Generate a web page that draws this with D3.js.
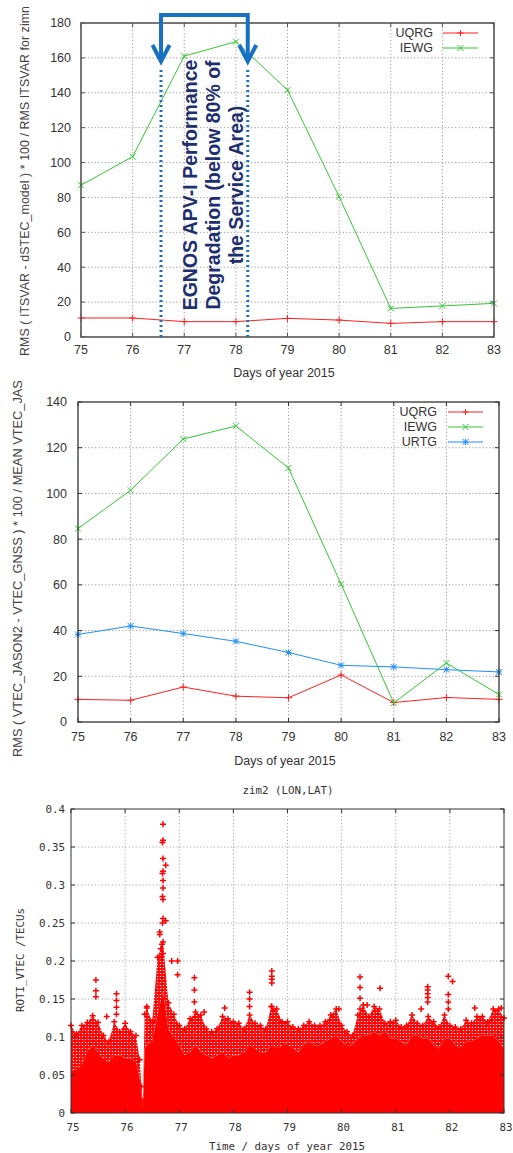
<!DOCTYPE html>
<html>
<head>
<meta charset="utf-8">
<script src="https://cdnjs.cloudflare.com/ajax/libs/d3/7.8.5/d3.min.js"></script>
<style>
  html, body { margin: 0; padding: 0; background: #fff; }
  svg { display: block; }
</style>
</head>
<body>
<svg id="chart" width="513" height="1153"></svg>
<script>
// ---- Data ------------------------------------------------------------
const days = [75, 76, 77, 78, 79, 80, 81, 82, 83];

// Panel 1: RMS(ITSVAR - dSTEC_model)*100 / RMS ITSVAR, station zimn
const itsvarUqrg = [10.9, 10.9, 8.8, 8.8, 10.7, 9.7, 7.8, 8.8, 8.8];
const itsvarIewg = [87.0, 103.4, 161.0, 169.3, 141.6, 80.4, 16.4, 17.8, 19.3];

// Panel 2: RMS(VTEC_JASON2 - VTEC_GNSS)*100 / MEAN VTEC_JASON2
const jasonUqrg = [9.9, 9.5, 15.3, 11.3, 10.6, 20.6, 8.5, 10.7, 9.9];
const jasonIewg = [84.6, 101.4, 123.8, 129.5, 111.1, 60.3, 8.3, 25.8, 12.0];
const jasonUrtg = [38.3, 42.0, 38.7, 35.3, 30.4, 24.8, 24.1, 22.9, 21.9];

// Tick values
const dayTicks = [75, 76, 77, 78, 79, 80, 81, 82, 83];
const itsvarTicks = [0, 20, 40, 60, 80, 100, 120, 140, 160, 180];
const jasonTicks = [0, 20, 40, 60, 80, 100, 120, 140];
const rotiTicks = [0, 0.05, 0.1, 0.15, 0.2, 0.25, 0.3, 0.35, 0.4];

// EGNOS APV-I degradation window (day of year)
const degradationDays = [76.55, 78.23];

// Panel 3: ROTI at zim2. Upper edge of the solid cloud and of the
// sparser fringe of samples, per time step.
const rotiDays = [75.0, 75.1, 75.2, 75.3, 75.4, 75.5, 75.6, 75.7, 75.8, 75.9,
  76.0, 76.1, 76.2, 76.27, 76.3, 76.33, 76.36, 76.4, 76.5, 76.6, 76.7, 76.8, 76.9,
  77.0, 77.1, 77.2, 77.3, 77.4, 77.5, 77.6, 77.7, 77.8, 77.9,
  78.0, 78.1, 78.2, 78.3, 78.4, 78.5, 78.6, 78.7, 78.8, 78.9,
  79.0, 79.1, 79.2, 79.3, 79.4, 79.5, 79.6, 79.7, 79.8, 79.9,
  80.0, 80.1, 80.2, 80.3, 80.4, 80.5, 80.6, 80.7, 80.8, 80.9,
  81.0, 81.1, 81.2, 81.3, 81.4, 81.5, 81.6, 81.7, 81.8, 81.9,
  82.0, 82.1, 82.2, 82.3, 82.4, 82.5, 82.6, 82.7, 82.8, 82.9, 83.0];
const rotiDense = [0.055, 0.058, 0.063, 0.080, 0.088, 0.080, 0.071, 0.067, 0.076, 0.076,
  0.072, 0.072, 0.067, 0.045, 0.025, 0.008, 0.085, 0.089, 0.094, 0.130, 0.160, 0.110, 0.100,
  0.089, 0.076, 0.080, 0.089, 0.080, 0.076, 0.072, 0.076, 0.080, 0.072,
  0.076, 0.076, 0.080, 0.089, 0.085, 0.080, 0.080, 0.089, 0.085, 0.089,
  0.090, 0.085, 0.080, 0.089, 0.094, 0.089, 0.089, 0.094, 0.098, 0.102,
  0.094, 0.089, 0.089, 0.098, 0.102, 0.102, 0.107, 0.102, 0.107, 0.098,
  0.098, 0.094, 0.089, 0.102, 0.102, 0.098, 0.098, 0.089, 0.085, 0.098,
  0.098, 0.089, 0.085, 0.094, 0.094, 0.098, 0.102, 0.102, 0.102, 0.094, 0.085];
const rotiFringe = [0.115, 0.104, 0.115, 0.119, 0.128, 0.119, 0.102, 0.094, 0.120, 0.107,
  0.118, 0.107, 0.102, 0.070, 0.035, 0.015, 0.130, 0.138, 0.120, 0.205, 0.225, 0.145, 0.130,
  0.115, 0.111, 0.124, 0.133, 0.129, 0.111, 0.107, 0.111, 0.127, 0.124,
  0.120, 0.118, 0.111, 0.129, 0.118, 0.115, 0.111, 0.140, 0.137, 0.120,
  0.120, 0.113, 0.111, 0.115, 0.120, 0.115, 0.115, 0.120, 0.129, 0.137,
  0.115, 0.107, 0.102, 0.129, 0.142, 0.127, 0.140, 0.137, 0.118, 0.120,
  0.122, 0.113, 0.115, 0.129, 0.118, 0.115, 0.127, 0.120, 0.113, 0.129,
  0.115, 0.113, 0.111, 0.122, 0.118, 0.127, 0.127, 0.120, 0.137, 0.137, 0.125];

// Isolated high ROTI samples above the cloud
const spikeDays = [75.46, 75.46, 75.46, 75.66, 75.84, 75.84, 75.84, 75.84, 76.40,
  76.70, 76.70, 76.69, 76.70, 76.75, 76.70, 76.69, 76.70, 76.70, 76.69, 76.70,
  76.70, 76.75, 76.69, 76.64, 76.64, 76.68, 76.66, 76.70, 76.67, 76.86, 76.97, 76.97,
  77.28, 77.28, 77.28, 77.46, 77.84, 78.30, 78.30, 78.30,
  78.71, 78.71, 78.71, 78.71, 78.71, 79.95, 80.34, 80.34, 80.34, 80.34, 80.47, 80.71,
  81.47, 81.59, 81.59, 81.59, 81.59, 81.59, 81.97, 81.97, 81.97, 81.97, 82.05, 82.46, 82.95];
const spikeValues = [0.175, 0.161, 0.153, 0.127, 0.157, 0.148, 0.139, 0.130, 0.140,
  0.380, 0.359, 0.356, 0.335, 0.326, 0.318, 0.315, 0.306, 0.296, 0.285, 0.281,
  0.256, 0.253, 0.250, 0.238, 0.235, 0.222, 0.216, 0.210, 0.205, 0.200, 0.200, 0.182,
  0.178, 0.162, 0.146, 0.133, 0.138, 0.159, 0.150, 0.140,
  0.187, 0.180, 0.176, 0.171, 0.140, 0.137, 0.179, 0.165, 0.151, 0.137, 0.142, 0.164,
  0.137, 0.166, 0.162, 0.157, 0.152, 0.146, 0.180, 0.156, 0.146, 0.137, 0.173, 0.138, 0.138];

// ---- Drawing helpers ---------------------------------------------------
const svg = d3.select('#chart');
const SANS = 'Liberation Sans, Arial, sans-serif';
const MONO = 'DejaVu Sans Mono, monospace';

function markerPath(kind, x, y, s) {
  const h = s / 2;
  const plus = `M${x - h},${y}H${x + h}M${x},${y - h}V${y + h}`;
  const cross = `M${x - h},${y - h}L${x + h},${y + h}M${x - h},${y + h}L${x + h},${y - h}`;
  if (kind === 'plus') return plus;
  if (kind === 'cross') return cross;
  return plus + cross;
}

function drawFrame(g, x, y, xTicks, yTicks, cfg) {
  const [x0, x1] = x.range();
  const [y0, y1] = y.range();
  g.append('g').selectAll('line').data(xTicks.slice(1, -1)).join('line')
    .attr('x1', d => x(d)).attr('x2', d => x(d)).attr('y1', y0).attr('y2', y1)
    .attr('stroke', cfg.grid).attr('stroke-width', 1).attr('stroke-dasharray', '1.2,2.2');
  g.append('g').selectAll('line').data(yTicks.slice(1, -1)).join('line')
    .attr('y1', d => y(d)).attr('y2', d => y(d)).attr('x1', x0).attr('x2', x1)
    .attr('stroke', cfg.grid).attr('stroke-width', 1).attr('stroke-dasharray', '1.2,2.2');
}

function drawBorder(g, x, y, xTicks, yTicks, cfg) {
  const [x0, x1] = x.range();
  const [y0, y1] = y.range();
  const t = cfg.tick;
  const tk = g.append('g').attr('stroke', cfg.frame).attr('stroke-width', 1);
  xTicks.forEach(d => {
    tk.append('line').attr('x1', x(d)).attr('x2', x(d)).attr('y1', y0).attr('y2', y0 - t);
    tk.append('line').attr('x1', x(d)).attr('x2', x(d)).attr('y1', y1).attr('y2', y1 + t);
  });
  yTicks.forEach(d => {
    tk.append('line').attr('y1', y(d)).attr('y2', y(d)).attr('x1', x0).attr('x2', x0 + t);
    tk.append('line').attr('y1', y(d)).attr('y2', y(d)).attr('x1', x1).attr('x2', x1 - t);
  });
  g.append('rect').attr('x', x0).attr('y', y1).attr('width', x1 - x0).attr('height', y0 - y1)
    .attr('fill', 'none').attr('stroke', cfg.frame).attr('stroke-width', cfg.frameWidth);
  g.append('g').selectAll('text').data(xTicks).join('text')
    .attr('x', d => x(d) + (cfg.xLabelShift || 0)).attr('y', cfg.xLabelY).attr('dy', '0.35em')
    .attr('text-anchor', 'middle').attr('font-family', cfg.font).attr('font-size', cfg.fontSize)
    .attr('fill', cfg.text).text(d => d);
  g.append('g').selectAll('text').data(yTicks).join('text')
    .attr('x', cfg.yLabelX).attr('y', d => y(d)).attr('dy', '0.35em')
    .attr('text-anchor', 'end').attr('font-family', cfg.font).attr('font-size', cfg.fontSize)
    .attr('fill', cfg.text).text(d => cfg.yFormat ? cfg.yFormat(d) : d);
}

function drawSeries(g, x, y, values, color, kind, size) {
  const pts = days.map((d, i) => [x(d), y(values[i])]);
  g.append('path').attr('d', d3.line()(pts)).attr('fill', 'none')
    .attr('stroke', color).attr('stroke-width', 1);
  g.append('g').selectAll('path').data(pts).join('path')
    .attr('d', p => markerPath(kind, p[0], p[1], size))
    .attr('stroke', color).attr('stroke-width', 1).attr('fill', 'none');
}

function drawLegend(g, entries, textRight, lineX0, lineX1, yStart, step, size) {
  entries.forEach((e, i) => {
    const yy = yStart + i * step;
    g.append('text').attr('x', textRight).attr('y', yy).attr('dy', '0.35em')
      .attr('text-anchor', 'end').attr('font-family', SANS).attr('font-size', 12.5)
      .attr('fill', '#333').text(e.name);
    g.append('line').attr('x1', lineX0).attr('x2', lineX1).attr('y1', yy).attr('y2', yy)
      .attr('stroke', e.color).attr('stroke-width', 1.2);
    g.append('path').attr('d', markerPath(e.kind, (lineX0 + lineX1) / 2, yy, size))
      .attr('stroke', e.color).attr('stroke-width', 1).attr('fill', 'none');
  });
}

const RED = '#ff2020', GREEN = '#33c833', BLUE = '#1e8fff';

// ---- Panel 1 -------------------------------------------------------------
{
  const g = svg.append('g');
  const x = d3.scaleLinear().domain([75, 83]).range([81, 494]);
  const y = d3.scaleLinear().domain([0, 180]).range([337, 23]);
  const cfg = { grid: '#9a9a9a', frame: '#555', frameWidth: 1.6, tick: 4, text: '#333',
    font: SANS, fontSize: 12.5, xLabelY: 350, yLabelX: 71 };
  drawFrame(g, x, y, dayTicks, itsvarTicks, cfg);
  drawSeries(g, x, y, itsvarUqrg, RED, 'plus', 7);
  drawSeries(g, x, y, itsvarIewg, GREEN, 'cross', 6);
  drawBorder(g, x, y, dayTicks, itsvarTicks, cfg);
  drawLegend(g, [
    { name: 'UQRG', color: RED, kind: 'plus' },
    { name: 'IEWG', color: GREEN, kind: 'cross' }
  ], 433, 443, 478, 33, 15, 6);

  g.append('text').attr('x', 284).attr('y', 373).attr('dy', '0.35em')
    .attr('text-anchor', 'middle').attr('font-family', SANS).attr('font-size', 12.5)
    .attr('fill', '#333').text('Days of year 2015');
  g.append('text').attr('transform', 'translate(25,181) rotate(-90)').attr('dy', '0.35em')
    .attr('text-anchor', 'middle').attr('font-family', SANS).attr('font-size', 12.4)
    .attr('textLength', 350).attr('lengthAdjust', 'spacing')
    .attr('fill', '#444').text('RMS ( ITSVAR - dSTEC_model ) * 100 / RMS ITSVAR for zimn');

  // Degradation window annotation
  const ANN = '#1771c2';
  const xa = x(degradationDays[0]), xb = x(degradationDays[1]);
  degradationDays.forEach(d => {
    g.append('line').attr('x1', x(d)).attr('x2', x(d)).attr('y1', 70).attr('y2', 337)
      .attr('stroke', ANN).attr('stroke-width', 3).attr('stroke-dasharray', '2,3');
  });
  g.append('path').attr('d', `M${xa},61V15H${xb}V61`).attr('fill', 'none')
    .attr('stroke', ANN).attr('stroke-width', 4).attr('stroke-linejoin', 'miter');
  [xa, xb].forEach(xx => {
    g.append('path').attr('d', `M${xx - 8.5},45L${xx},61.5L${xx + 8.5},45`)
      .attr('fill', 'none').attr('stroke', ANN).attr('stroke-width', 4)
      .attr('stroke-linecap', 'butt').attr('stroke-linejoin', 'miter');
  });
  const lines = ['EGNOS APV-I Performance', 'Degradation (below 80% of', 'the Service Area)'];
  lines.forEach((t, i) => {
    g.append('text').attr('transform', `translate(${190 + i * 23},185) rotate(-90)`)
      .attr('dy', '0.35em').attr('text-anchor', 'middle').attr('font-family', SANS)
      .attr('font-weight', 'bold').attr('font-size', 19.5).attr('fill', '#1d2f6f').text(t);
  });
}

// ---- Panel 2 -------------------------------------------------------------
{
  const g = svg.append('g');
  const x = d3.scaleLinear().domain([75, 83]).range([78, 499]);
  const y = d3.scaleLinear().domain([0, 140]).range([722, 402]);
  const cfg = { grid: '#9a9a9a', frame: '#333', frameWidth: 1.3, tick: 4, text: '#333',
    font: SANS, fontSize: 12.5, xLabelY: 737, yLabelX: 67 };
  drawFrame(g, x, y, dayTicks, jasonTicks, cfg);
  drawSeries(g, x, y, jasonUqrg, RED, 'plus', 7);
  drawSeries(g, x, y, jasonIewg, GREEN, 'cross', 6);
  drawSeries(g, x, y, jasonUrtg, BLUE, 'star', 6);
  drawBorder(g, x, y, dayTicks, jasonTicks, cfg);
  drawLegend(g, [
    { name: 'UQRG', color: RED, kind: 'plus' },
    { name: 'IEWG', color: GREEN, kind: 'cross' },
    { name: 'URTG', color: BLUE, kind: 'star' }
  ], 437, 448, 483, 412, 15, 6);

  g.append('text').attr('x', 285).attr('y', 761).attr('dy', '0.35em')
    .attr('text-anchor', 'middle').attr('font-family', SANS).attr('font-size', 12.5)
    .attr('fill', '#333').text('Days of year 2015');
  svg.append('clipPath').attr('id', 'p2TitleClip')
    .append('rect').attr('x', 0).attr('y', 381).attr('width', 60).attr('height', 400);
  g.append('g').attr('clip-path', 'url(#p2TitleClip)')
    .append('text').attr('transform', 'translate(18,757) rotate(-90)').attr('dy', '0.35em')
    .attr('text-anchor', 'start').attr('font-family', SANS).attr('font-size', 12.8)
    .attr('fill', '#444').text('RMS ( VTEC_JASON2 - VTEC_GNSS ) * 100 / MEAN VTEC_JASON2');
}

// ---- Panel 3 -------------------------------------------------------------
{
  const g = svg.append('g');
  const x = d3.scaleLinear().domain([75, 83]).range([71, 504]);
  const y = d3.scaleLinear().domain([0, 0.4]).range([1113, 809]);
  const cfg = { grid: '#a8a8a8', frame: '#333', frameWidth: 1, tick: 4, text: '#333',
    font: MONO, fontSize: 10.8, xLabelY: 1127, yLabelX: 65, xLabelShift: 2,
    yFormat: d => d === 0 ? '0' : String(+d.toFixed(2)) };
  drawFrame(g, x, y, dayTicks, rotiTicks, cfg);

  const P3RED = '#ff0000';
  const defs = svg.append('defs');
  const pat = defs.append('pattern').attr('id', 'rotiFringe').attr('patternUnits', 'userSpaceOnUse')
    .attr('width', 6).attr('height', 6);
  [[3, 3], [0, 0], [6, 0], [0, 6], [6, 6]].forEach(([cx, cy]) => {
    pat.append('path').attr('d', markerPath('plus', cx, cy, 5.5))
      .attr('stroke', P3RED).attr('stroke-width', 1.8).attr('fill', 'none');
  });

  const pts = rotiDays.map((d, i) => ({ d, lo: rotiDense[i], hi: rotiFringe[i] }));
  // sparse fringe band
  g.append('path').datum(pts)
    .attr('d', d3.area().x(p => x(p.d)).y0(p => y(p.lo)).y1(p => y(p.hi)))
    .attr('fill', 'url(#rotiFringe)');
  // solid cloud of samples
  g.append('path').datum(pts)
    .attr('d', d3.area().x(p => x(p.d)).y0(y(0)).y1(p => y(p.lo)))
    .attr('fill', P3RED);
  // fringe-top samples
  g.append('g').selectAll('path').data(pts).join('path')
    .attr('d', p => markerPath('plus', x(p.d), y(p.hi), 6))
    .attr('stroke', P3RED).attr('stroke-width', 1.5).attr('fill', 'none');
  // isolated high samples
  g.append('g').selectAll('path').data(spikeDays.map((d, i) => [d, spikeValues[i]])).join('path')
    .attr('d', p => markerPath('plus', x(p[0]), y(p[1]), 6))
    .attr('stroke', P3RED).attr('stroke-width', 1.5).attr('fill', 'none');

  drawBorder(g, x, y, dayTicks, rotiTicks, cfg);

  g.append('text').attr('x', 288).attr('y', 790).attr('dy', '0.35em')
    .attr('text-anchor', 'middle').attr('font-family', MONO).attr('font-size', 10.8)
    .attr('fill', '#333').text('zim2 (LON,LAT)');
  g.append('text').attr('x', 287).attr('y', 1146).attr('dy', '0.35em')
    .attr('text-anchor', 'middle').attr('font-family', MONO).attr('font-size', 10.8)
    .attr('fill', '#333').text('Time / days of year 2015');
  g.append('text').attr('transform', 'translate(20,960) rotate(-90)').attr('dy', '0.35em')
    .attr('text-anchor', 'middle').attr('font-family', MONO).attr('font-size', 10.8)
    .attr('fill', '#333').text('ROTI_VTEC /TECUs');
}
</script>
</body>
</html>
